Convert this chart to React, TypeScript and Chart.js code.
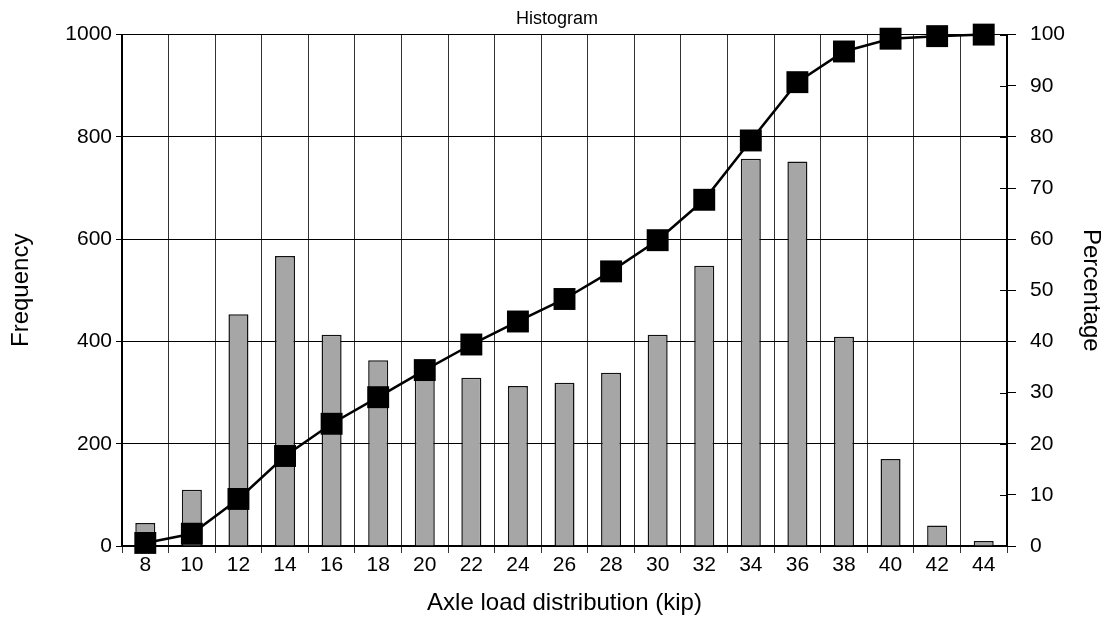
import React, { useEffect, useRef } from "react";
import { Chart, registerables } from "chart.js";

Chart.register(...registerables);

const categories = ["8", "10", "12", "14", "16", "18", "20", "22", "24", "26", "28", "30", "32", "34", "36", "38", "40", "42", "44"];
const frequency = [45, 110, 453, 567, 413, 363, 343, 329, 313, 319, 339, 413, 548, 757, 752, 409, 170, 40, 10];
const cumulativePercent = [0.6, 2.4, 9.2, 17.6, 23.9, 29.1, 34.4, 39.4, 43.9, 48.3, 53.7, 59.8, 67.7, 79.3, 90.7, 96.7, 99.2, 99.7, 100];
const frequencyTicks = [0, 200, 400, 600, 800, 1000];
const percentTicks = [0, 10, 20, 30, 40, 50, 60, 70, 80, 90, 100];

const FONT = "'Liberation Sans', Arial, sans-serif";

const innerTicks = {
  id: "innerTicks",
  beforeDatasetsDraw(chart: any) {
    const s = chart.scales.y1;
    const ctx = chart.ctx;
    ctx.save();
    ctx.strokeStyle = "#000";
    ctx.lineWidth = 1;
    s.ticks.forEach((t: any) => {
      const y = Math.round(s.getPixelForValue(t.value)) + 0.5;
      ctx.beginPath();
      ctx.moveTo(s.left - 7, y);
      ctx.lineTo(s.left, y);
      ctx.stroke();
    });
    ctx.restore();
  },
};

export default function App() {
  const ref = useRef<HTMLCanvasElement>(null);
  useEffect(() => {
    if (!ref.current) return;
    const chart = new Chart(ref.current, {
      type: "bar",
      data: {
        labels: categories,
        datasets: [
          {
            type: "line",
            data: cumulativePercent,
            yAxisID: "y1",
            borderColor: "#000",
            backgroundColor: "#000",
            borderWidth: 2.5,
            pointStyle: "rect",
            pointRadius: 15.5,
            pointBorderWidth: 0,
            pointBackgroundColor: "#000",
            clip: false,
            order: 0,
          } as any,
          {
            type: "bar",
            data: frequency,
            yAxisID: "y",
            backgroundColor: "#a6a6a6",
            borderColor: "#111",
            borderWidth: 1.5,
            barPercentage: 0.43,
            categoryPercentage: 1,
            order: 1,
          },
        ],
      },
      options: {
        animation: false,
        responsive: true,
        maintainAspectRatio: false,
        layout: { padding: 0 },
        plugins: {
          legend: { display: false },
          tooltip: { enabled: false },
          title: {
            display: true,
            text: "Histogram",
            color: "#000",
            font: { family: FONT, size: 18, weight: "normal" },
            padding: { top: 8, bottom: 5 },
          },
        },
        scales: {
          x: {
            grid: { offset: true, color: "#333", lineWidth: 1, tickLength: 7, drawTicks: true },
            border: { color: "#000", width: 2 },
            ticks: { color: "#000", font: { family: FONT, size: 21 }, padding: 0, maxRotation: 0, autoSkip: false },
            title: {
              display: true,
              text: "Axle load distribution (kip)",
              color: "#000",
              font: { family: FONT, size: 24 },
              padding: { top: 4, bottom: 8 },
            },
            afterFit: (s: any) => { s.height = 80; },
          },
          y: {
            position: "left",
            min: 0,
            max: 1000,
            afterBuildTicks: (s: any) => { s.ticks = frequencyTicks.map((v) => ({ value: v })); },
            grid: { color: "#000", lineWidth: 1, tickLength: 6 },
            border: { color: "#000", width: 2 },
            ticks: { color: "#000", font: { family: FONT, size: 21 }, padding: 4, callback: (v: any) => String(v) },
            title: {
              display: true,
              text: "Frequency",
              color: "#000",
              font: { family: FONT, size: 24 },
              padding: { top: 7, bottom: 4 },
            },
            afterFit: (s: any) => { s.width = 122; },
          },
          y1: {
            position: "right",
            min: 0,
            max: 100,
            afterBuildTicks: (s: any) => { s.ticks = percentTicks.map((v) => ({ value: v })); },
            grid: { drawOnChartArea: false, color: "#000", tickLength: 9 },
            border: { color: "#000", width: 2 },
            ticks: { color: "#000", font: { family: FONT, size: 21 }, padding: 14, callback: (v: any) => String(v) },
            title: {
              display: true,
              text: "Percentage",
              color: "#000",
              font: { family: FONT, size: 24 },
              padding: { top: 9, bottom: 4 },
            },
            afterFit: (s: any) => { s.width = 107; },
          },
        },
      },
      plugins: [innerTicks],
    });
    return () => chart.destroy();
  }, []);
  return (
    <div style={{ position: "fixed", left: 0, top: 0, width: 1114, height: 626, background: "#fff" }}>
      <canvas ref={ref} />
    </div>
  );
}
